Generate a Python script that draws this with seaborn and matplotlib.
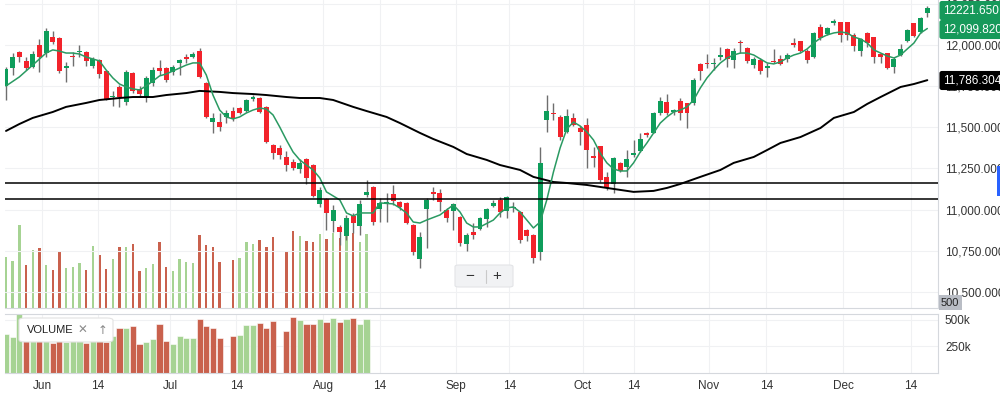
import numpy as np
import pandas as pd
import matplotlib
matplotlib.use("Agg")
import matplotlib.pyplot as plt
import seaborn as sns
from matplotlib.patches import FancyBboxPatch, Rectangle

# daily candles, one per trading day (27 May - 18 Dec 2019)
opens = [11751, 11860, 11957, 11903, 11866, 12000, 11951, 12048, 12042, 11860,
         11933, 11957, 11957, 11872, 11909, 11842, 11684, 11745, 11654, 11830,
         11733, 11684, 11769, 11860, 11860, 11836, 11891, 11927, 11927, 11963,
         11769, 11532, 11532, 11563, 11599, 11617, 11599, 11672, 11678, 11624,
         11393, 11375, 11320, 11290, 11247, 11308, 11271, 11035, 11065, 10931,
         10895, 10841, 10962, 10901, 11089, 11138, 11004, 11041, 11095, 11047,
         11041, 10907, 10701, 11004, 11108, 11102, 10998, 10992, 10956, 10792,
         10865, 10883, 10944, 11023, 11059, 10992, 11010, 10986, 10877, 10847,
         10743, 11545, 11587, 11563, 11472, 11557, 11496, 11514, 11326, 11387,
         11199, 11156, 11284, 11259, 11332, 11356, 11466, 11466, 11587, 11654,
         11593, 11660, 11648, 11648, 11885, 11891, 11885, 11927, 11976, 11909,
         12018, 11982, 11878, 11909, 11860, 11903, 11915, 11915, 12012, 12024,
         11963, 11927, 12109, 12067, 12133, 12139, 12139, 12061, 11963, 12073,
         12048, 11945, 11951, 11866, 11939, 12024, 12133, 12079, 12194]
highs = [11866, 11951, 11963, 11927, 11963, 12036, 12103, 12085, 12048, 11897,
         11957, 12000, 11963, 11927, 11915, 11848, 11721, 11757, 11848, 11836,
         11751, 11812, 11866, 11909, 11866, 11878, 11915, 11945, 11957, 11982,
         11775, 11587, 11587, 11605, 11624, 11624, 11672, 11696, 11684, 11630,
         11399, 11393, 11356, 11308, 11308, 11314, 11278, 11138, 11071, 11029,
         10907, 10968, 10980, 11059, 11180, 11144, 11071, 11102, 11150, 11053,
         11047, 10913, 10865, 11071, 11138, 11126, 11010, 11041, 10962, 10859,
         10919, 10956, 11010, 11059, 11077, 11083, 11047, 10992, 10883, 10853,
         11381, 11696, 11648, 11575, 11611, 11587, 11508, 11557, 11381, 11387,
         11229, 11320, 11290, 11362, 11423, 11466, 11472, 11590, 11684, 11702,
         11611, 11678, 11650, 11800, 11891, 11945, 11921, 11988, 11982, 11982,
         12030, 11985, 11927, 11921, 11891, 11976, 11939, 11951, 12042, 12027,
         11976, 12079, 12127, 12109, 12158, 12142, 12142, 12073, 12042, 12079,
         12051, 11951, 11954, 11927, 12006, 12097, 12136, 12170, 12237]
lows = [11666, 11818, 11897, 11848, 11860, 11836, 11927, 12006, 11830, 11775,
        11872, 11927, 11872, 11860, 11800, 11666, 11630, 11624, 11636, 11708,
        11684, 11654, 11751, 11818, 11775, 11818, 11818, 11891, 11921, 11800,
        11557, 11466, 11478, 11526, 11539, 11581, 11593, 11660, 11587, 11405,
        11308, 11308, 11235, 11241, 11223, 11156, 11077, 11017, 10877, 10865,
        10786, 10816, 10859, 10847, 11077, 10907, 10925, 10925, 11029, 10998,
        10913, 10725, 10646, 10768, 11059, 10992, 10925, 10877, 10780, 10749,
        10822, 10877, 10895, 11017, 10956, 10950, 10986, 10798, 10810, 10677,
        10695, 11472, 11545, 11423, 11466, 11508, 11393, 11253, 11259, 11168,
        11120, 11102, 11229, 11199, 11320, 11350, 11441, 11463, 11575, 11575,
        11575, 11545, 11496, 11636, 11787, 11860, 11848, 11909, 11866, 11860,
        11951, 11891, 11860, 11824, 11806, 11891, 11878, 11897, 11988, 11957,
        11891, 11921, 12030, 12061, 12121, 12018, 12030, 11963, 11933, 11988,
        11891, 11891, 11854, 11830, 11933, 12018, 12051, 12073, 12170]
closes = [11854, 11927, 11927, 11860, 11945, 11927, 12085, 12018, 11842, 11872,
          11927, 11963, 11903, 11915, 11824, 11672, 11690, 11684, 11836, 11721,
          11702, 11800, 11848, 11842, 11787, 11866, 11909, 11915, 11945, 11806,
          11563, 11557, 11502, 11587, 11551, 11587, 11666, 11684, 11593, 11411,
          11344, 11332, 11271, 11253, 11284, 11193, 11083, 11120, 10980, 10998,
          10865, 10950, 10919, 11035, 11108, 10925, 11041, 11047, 11053, 11017,
          10919, 10743, 10834, 11059, 11095, 11047, 10950, 11035, 10798, 10847,
          10847, 10950, 11004, 11041, 10986, 11077, 11017, 10816, 10841, 10707,
          11284, 11599, 11581, 11441, 11569, 11514, 11472, 11362, 11314, 11180,
          11132, 11314, 11235, 11308, 11344, 11429, 11454, 11587, 11660, 11587,
          11605, 11587, 11587, 11787, 11842, 11885, 11891, 11939, 11915, 11963,
          12012, 11903, 11915, 11842, 11872, 11897, 11885, 11939, 12000, 11963,
          11909, 12073, 12042, 12103, 12146, 12061, 12061, 11994, 12036, 12012,
          11927, 11927, 11860, 11915, 11976, 12091, 12054, 12164, 12221.65]

# volume (only reported for the first 55 sessions)
volume = [362, 335, 563, 310, 404, 418, 310, 283, 397, 294,
          300, 325, 279, 429, 376, 287, 350, 424, 424, 443,
          273, 294, 320, 455, 298, 273, 350, 329, 325, 501,
          439, 424, 331, None, 345, 356, 453, 445, 470, 424,
          486, None, 397, 522, 494, 459, 455, 507, 476, 513,
          478, 509, 511, 457, 505]
volume_dir = list("uuudududdu" "uudud" "dudud" "duudd" "uuuud" "dddud" "uuudd" "ddddu" "ddudu" "duduu")

# moving averages (session index, value)
fast_idx = [0, 2, 4, 6, 7, 8, 9, 10, 11, 12, 13, 14, 15, 16, 17, 18, 19, 20, 21, 22,
            23, 24, 25, 26, 27, 28, 29, 30, 31, 32, 33, 34, 35, 36, 37, 38, 39, 40, 41, 42,
            43, 44, 45, 46, 47, 48, 50, 51, 52, 53, 55, 56, 58, 59, 60, 61, 62, 63, 65, 67,
            68, 69, 70, 71, 73, 74, 75, 76, 77, 78, 79, 80, 81, 82, 83, 84, 85, 86, 87, 88,
            89, 90, 91, 92, 93, 94, 95, 96, 97, 98, 99, 100, 101, 102, 103, 104, 105, 106, 107, 108,
            109, 110, 111, 112, 113, 114, 115, 116, 117, 118, 119, 120, 121, 122, 123, 124, 125, 126, 127, 128,
            129, 130, 131, 132, 133, 134, 135, 136, 137, 138]
fast_val = [11751, 11806, 11878, 11951, 11970, 11963, 11951, 11951, 11945, 11927,
            11915, 11903, 11848, 11800, 11763, 11745, 11733, 11727, 11751, 11781,
            11812, 11824, 11842, 11860, 11878, 11891, 11891, 11818, 11696, 11605,
            11563, 11551, 11563, 11587, 11605, 11617, 11611, 11575, 11502, 11423,
            11350, 11302, 11271, 11241, 11193, 11108, 11059, 10980, 10962, 10980,
            10980, 11041, 11035, 11010, 10980, 10925, 10919, 10937, 10968, 11029,
            10986, 10919, 10895, 10895, 10937, 10980, 11010, 11017, 10986, 10937,
            10889, 10925, 11059, 11229, 11375, 11490, 11532, 11508, 11472, 11423,
            11344, 11284, 11247, 11235, 11235, 11284, 11350, 11405, 11466, 11526,
            11563, 11593, 11605, 11624, 11666, 11739, 11800, 11848, 11891, 11921,
            11939, 11951, 11951, 11939, 11915, 11891, 11885, 11897, 11921, 11939,
            11951, 11976, 12012, 12042, 12061, 12073, 12079, 12073, 12048, 12036,
            12012, 11970, 11951, 11933, 11921, 11939, 11976, 12012, 12073, 12099.82]
slow_idx = [0, 2, 4, 7, 9, 12, 14, 17, 19, 22, 24, 27, 29, 32, 34, 37, 39, 42, 44, 47,
            49, 52, 54, 57, 59, 62, 64, 67, 69, 72, 74, 77, 79, 82, 84, 87, 89, 92, 94, 97,
            99, 101, 104, 107, 109, 112, 114, 116, 119, 122, 124, 127, 129, 131, 134, 136, 138]
slow_val = [11478, 11520, 11557, 11593, 11624, 11648, 11666, 11678, 11684, 11684,
            11696, 11708, 11721, 11715, 11708, 11702, 11696, 11684, 11678, 11678,
            11666, 11624, 11599, 11563, 11526, 11466, 11429, 11381, 11338, 11302,
            11271, 11241, 11199, 11168, 11162, 11150, 11138, 11120, 11108, 11114,
            11132, 11156, 11199, 11241, 11284, 11320, 11362, 11405, 11441, 11496,
            11557, 11593, 11642, 11684, 11745, 11763, 11786.304]

# horizontal levels drawn across the chart
levels = [11160, 11063]

# date axis labels
tick_labels = ["Jun", "14", "Jul", "14", "Aug", "14", "Sep", "14", "Oct", "14", "Nov", "14", "Dec", "14"]
tick_pos = [5.4, 13.8, 24.6, 34.5, 47.5, 56.0, 67.4, 75.4, 86.4, 94.0, 105.3, 113.9, 125.4, 135.5]
price_ticks = [10500, 10750, 11000, 11250, 11500, 11750, 12000, 12250]
vol_ticks = [250, 500]

UP, DOWN = "#0e9d5b", "#f2232b"
VUP, VDOWN = "#a6d393", "#c9614d"
WICK = "#6e6e6e"
GRID = "#f0f1f3"
TXT = "#333333"

sns.set_theme(style="white")
plt.rcParams['font.family'] = ['Liberation Sans', 'DejaVu Sans']

df = pd.DataFrame({"open": opens, "high": highs, "low": lows, "close": closes})
df["idx"] = np.arange(len(df))
df["up"] = df["close"] >= df["open"]

W, H = 1000, 393
fig = plt.figure(figsize=(W / 100, H / 100), dpi=100)


def box(l, t, r, b):
    return [l / W, 1 - b / H, (r - l) / W, (b - t) / H]


ax = fig.add_axes(box(5, 0, 938, 308))
axo = ax.twinx()
axv = fig.add_axes(box(5, 314, 938, 373))
xlim = (-0.15, 139.6)

# thin volume bars behind the candles
vser = pd.Series(volume, dtype=float) * 1000
vcol = [VUP if d == "u" else VDOWN for d in volume_dir]
axo.bar(np.arange(len(vser)), vser, width=0.36, color=vcol, linewidth=0)
axo.set_ylim(45e3, 1960e3)
axo.set_yticks([])
for s in axo.spines.values():
    s.set_visible(False)
ax.set_zorder(axo.get_zorder() + 1)
ax.patch.set_visible(False)

# candles
ax.vlines(df["idx"], df["low"], df["high"], color=WICK, linewidth=1, zorder=2)
body_lo = df[["open", "close"]].min(axis=1)
body_h = (df["close"] - df["open"]).abs().clip(lower=8)
ax.bar(df["idx"], body_h, bottom=body_lo, width=0.74,
       color=np.where(df["up"], UP, DOWN), linewidth=0, zorder=3)

# moving averages
sns.lineplot(x=slow_idx, y=slow_val, ax=ax, color="black", linewidth=1.4, zorder=4)
sns.lineplot(x=fast_idx, y=fast_val, ax=ax, color="#2a9a62", linewidth=1.1, zorder=4)
for lv in levels:
    ax.axhline(lv, color="black", linewidth=1.1, zorder=4)

ax.set_xlim(*xlim)
ax.set_ylim(10403, 12273)
ax.set_yticks(price_ticks)
ax.set_yticklabels([f"{p:,.3f}" for p in price_ticks])
ax.yaxis.tick_right()
ax.tick_params(axis="y", length=0, pad=5, labelsize=8.5, labelcolor=TXT)
ax.set_xticks(tick_pos)
ax.tick_params(axis="x", length=0, labelbottom=False)
ax.grid(True, color=GRID, linewidth=0.8)
for k in ["top", "left"]:
    ax.spines[k].set_visible(False)
for k in ["right", "bottom"]:
    ax.spines[k].set_color("#d5d8dd")
    ax.spines[k].set_linewidth(0.8)
ax.set_xlabel("")
ax.set_ylabel("")

# volume panel
axv.bar(np.arange(len(vser)), vser, width=0.92, color=vcol, edgecolor="white", linewidth=0.4)
axv.set_xlim(*xlim)
axv.set_ylim(0, 552e3)
axv.set_yticks([v * 1000 for v in vol_ticks])
axv.set_yticklabels([f"{v}k" for v in vol_ticks])
axv.yaxis.tick_right()
axv.tick_params(axis="y", length=0, pad=5, labelsize=8.5, labelcolor=TXT)
axv.set_xticks(tick_pos)
axv.set_xticklabels(tick_labels)
axv.tick_params(axis="x", length=3, width=0.6, color="#aaaaaa", pad=2, labelsize=8.5, labelcolor=TXT)
axv.grid(True, color=GRID, linewidth=0.8)
axv.spines["left"].set_visible(False)
for k in ["right", "top", "bottom"]:
    axv.spines[k].set_color("#d5d8dd")
    axv.spines[k].set_linewidth(0.8)

# price tags on the right
fig.text(943 / W, 1 - 10.5 / H, f"{closes[-1]:.3f}", color="white", fontsize=8.5, va="center",
         bbox=dict(boxstyle="round,pad=0.3,rounding_size=0.2", fc="#16995a", ec="none"))
fig.text(943 / W, 1 - 29.5 / H, f"{fast_val[-1]:,.3f}", color="white", fontsize=8.5, va="center",
         bbox=dict(boxstyle="round,pad=0.3,rounding_size=0.2", fc="#16995a", ec="none"))
fig.text(943 / W, 1 - 80.5 / H, f"{slow_val[-1]:,.3f}", color="white", fontsize=8.5, va="center",
         bbox=dict(boxstyle="round,pad=0.3,rounding_size=0.2", fc="black", ec="none"))
fig.text(941 / W, 1 - 302.5 / H, "500", color="#222222", fontsize=8, va="center",
         bbox=dict(boxstyle="square,pad=0.2", fc="#b9bdc5", ec="none"))
fig.patches.append(Rectangle((997 / W, 1 - 196 / H), 3 / W, 30 / H, transform=fig.transFigure,
                             fc="#2962ff", ec="none"))

# VOLUME legend chip
fig.patches.append(FancyBboxPatch((19 / W, 1 - 342 / H), 94 / W, 24 / H, transform=fig.transFigure,
                                  boxstyle="round,pad=0,rounding_size=0.006", fc="white",
                                  ec="#e2e2e2", lw=0.8, zorder=5))
fig.text(27 / W, 1 - 330 / H, "VOLUME", color="#222222", fontsize=8, va="center", zorder=6)
fig.text(78 / W, 1 - 330 / H, "\u2715", color="#8a8a8a", fontsize=8.5, va="center",
         family=["DejaVu Sans"], zorder=6)
fig.text(98 / W, 1 - 330 / H, "\u2191", color="#8a8a8a", fontsize=8.5, va="center",
         family=["DejaVu Sans"], zorder=6)

# zoom control
fig.patches.append(FancyBboxPatch((455 / W, 1 - 287 / H), 58 / W, 22 / H, transform=fig.transFigure,
                                  boxstyle="round,pad=0,rounding_size=0.004", fc="#f1f2f4",
                                  ec="#e3e4e7", lw=0.8, zorder=5))
fig.text(470 / W, 1 - 276 / H, "\u2212", color="#333333", fontsize=11, ha="center", va="center", zorder=6)
fig.text(497 / W, 1 - 276 / H, "+", color="#333333", fontsize=11, ha="center", va="center", zorder=6)
fig.lines.append(plt.Line2D([486 / W, 486 / W], [1 - 270 / H, 1 - 283 / H], transform=fig.transFigure,
                            color="#c9c9c9", linewidth=0.8, zorder=6))

fig.savefig("out.png", dpi=100)
